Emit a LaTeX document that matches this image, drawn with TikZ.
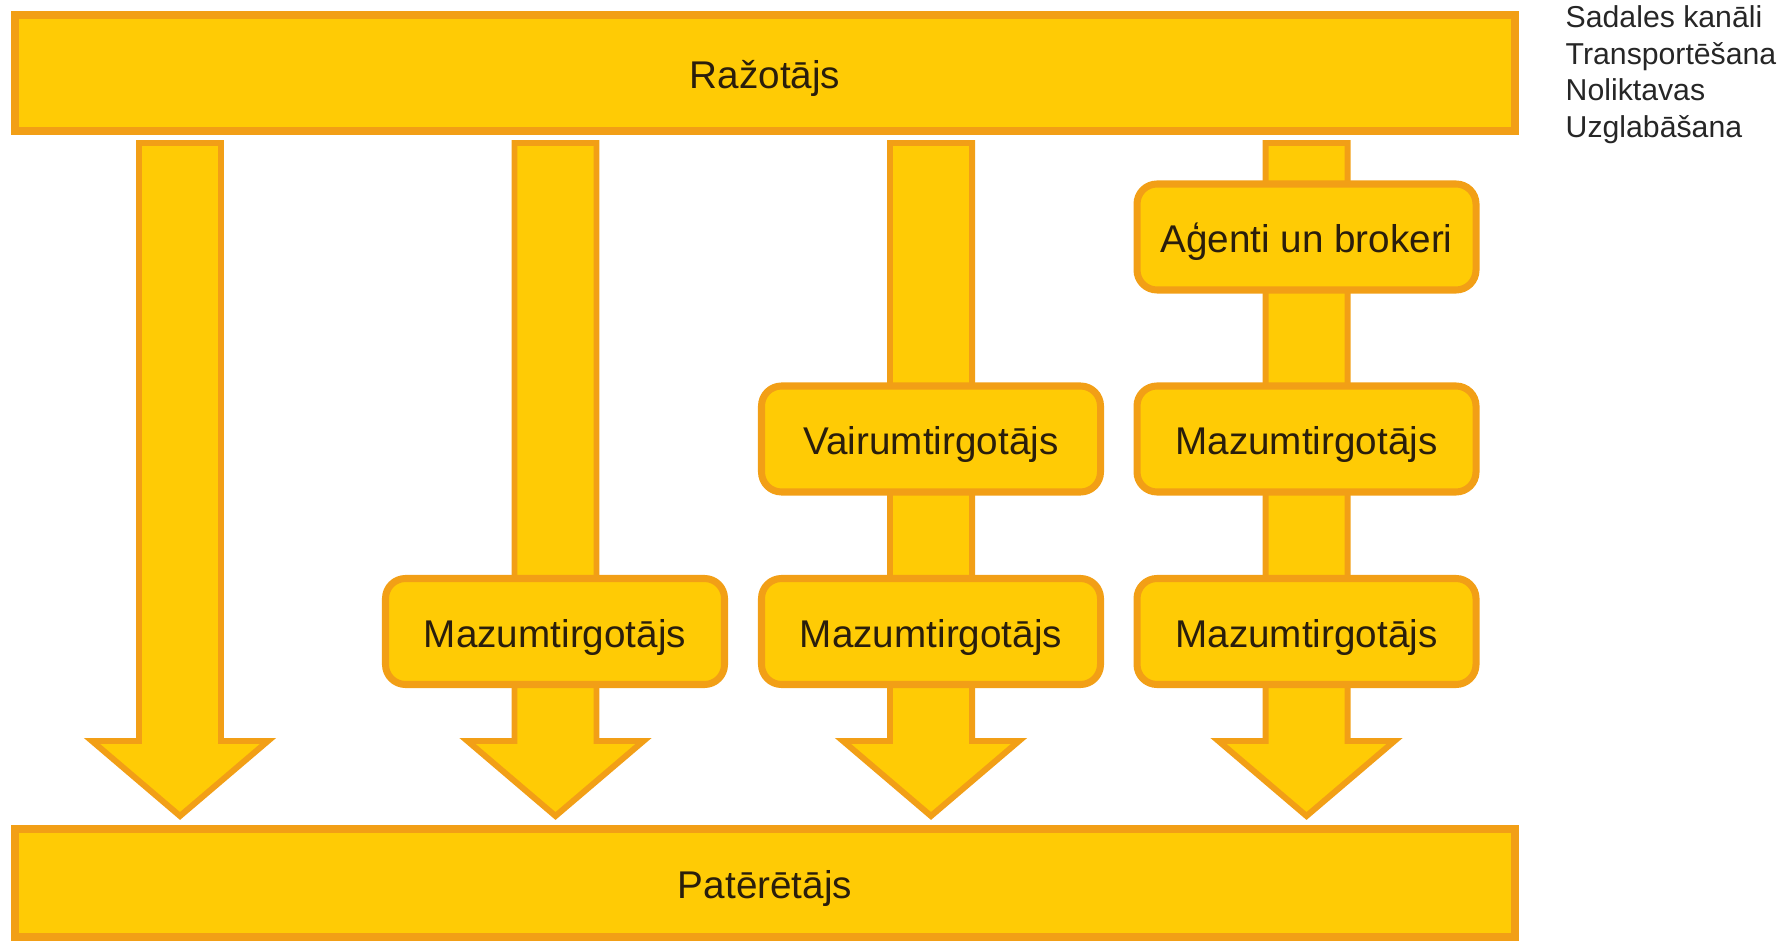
\documentclass[tikz,border=0pt]{standalone}
\usepackage{fontspec}
\setmainfont{Liberation Sans}
\usepackage{color}
\usepackage{tikz}

\definecolor{gelb}{HTML}{FFCB05}
\definecolor{rand}{HTML}{F29F16}
\definecolor{schrift}{HTML}{2A1E0C}

\tikzset{
  balken/.style={draw=rand, fill=gelb, line width=2.3pt, minimum width=15cm,
    minimum height=1.16cm, text=schrift, text height=0.34cm, text depth=0.02cm,
    font=\fontsize{11}{13}\selectfont},
  stufe/.style={draw=rand, fill=gelb, line width=2pt, rounded corners=0.2cm,
    minimum width=3.39cm, minimum height=1.06cm, text=schrift,
    text height=0.34cm, text depth=0.02cm, font=\fontsize{11}{13}\selectfont},
  pfeil/.style={draw=rand, fill=gelb, line width=1.7pt, line join=miter},
}

\begin{document}
\begin{tikzpicture}
\useasboundingbox (0,0) rectangle (17.87,9.41);
%Pfeile von oben nach unten
\foreach \x in {1.80,5.555,9.31,13.065}{
  \draw[pfeil] (\x-0.41,7.98) -- (\x+0.41,7.98) -- (\x+0.41,2.00) -- (\x+0.88,2.00)
    -- (\x,1.25) -- (\x-0.88,2.00) -- (\x-0.41,2.00) -- cycle;
}

\node[balken] (raz) at (7.65,8.68) {Ražotājs};
\node[balken, minimum height=1.08cm] (pat) at (7.65,0.58) {Patērētājs};

\node[stufe] (maz2) at (5.55,3.095) {Mazumtirgotājs};
\node[stufe] (vai3) at (9.31,5.02) {Vairumtirgotājs};
\node[stufe] (maz3) at (9.31,3.095) {Mazumtirgotājs};
\node[stufe] (agt4) at (13.065,7.04) {Aģenti un brokeri};
\node[stufe] (mzt4) at (13.065,5.02) {Mazumtirgotājs};
\node[stufe] (maz4) at (13.065,3.095) {Mazumtirgotājs};

%Legende
\node[anchor=north west, inner sep=0pt, align=left, text=black!85,
  font=\fontsize{8.6}{10.4}\selectfont] (leg) at (15.65,9.36)
  {Sadales kanāli\\Transportēšana\\Noliktavas\\Uzglabāšana};
\end{tikzpicture}
\end{document}
